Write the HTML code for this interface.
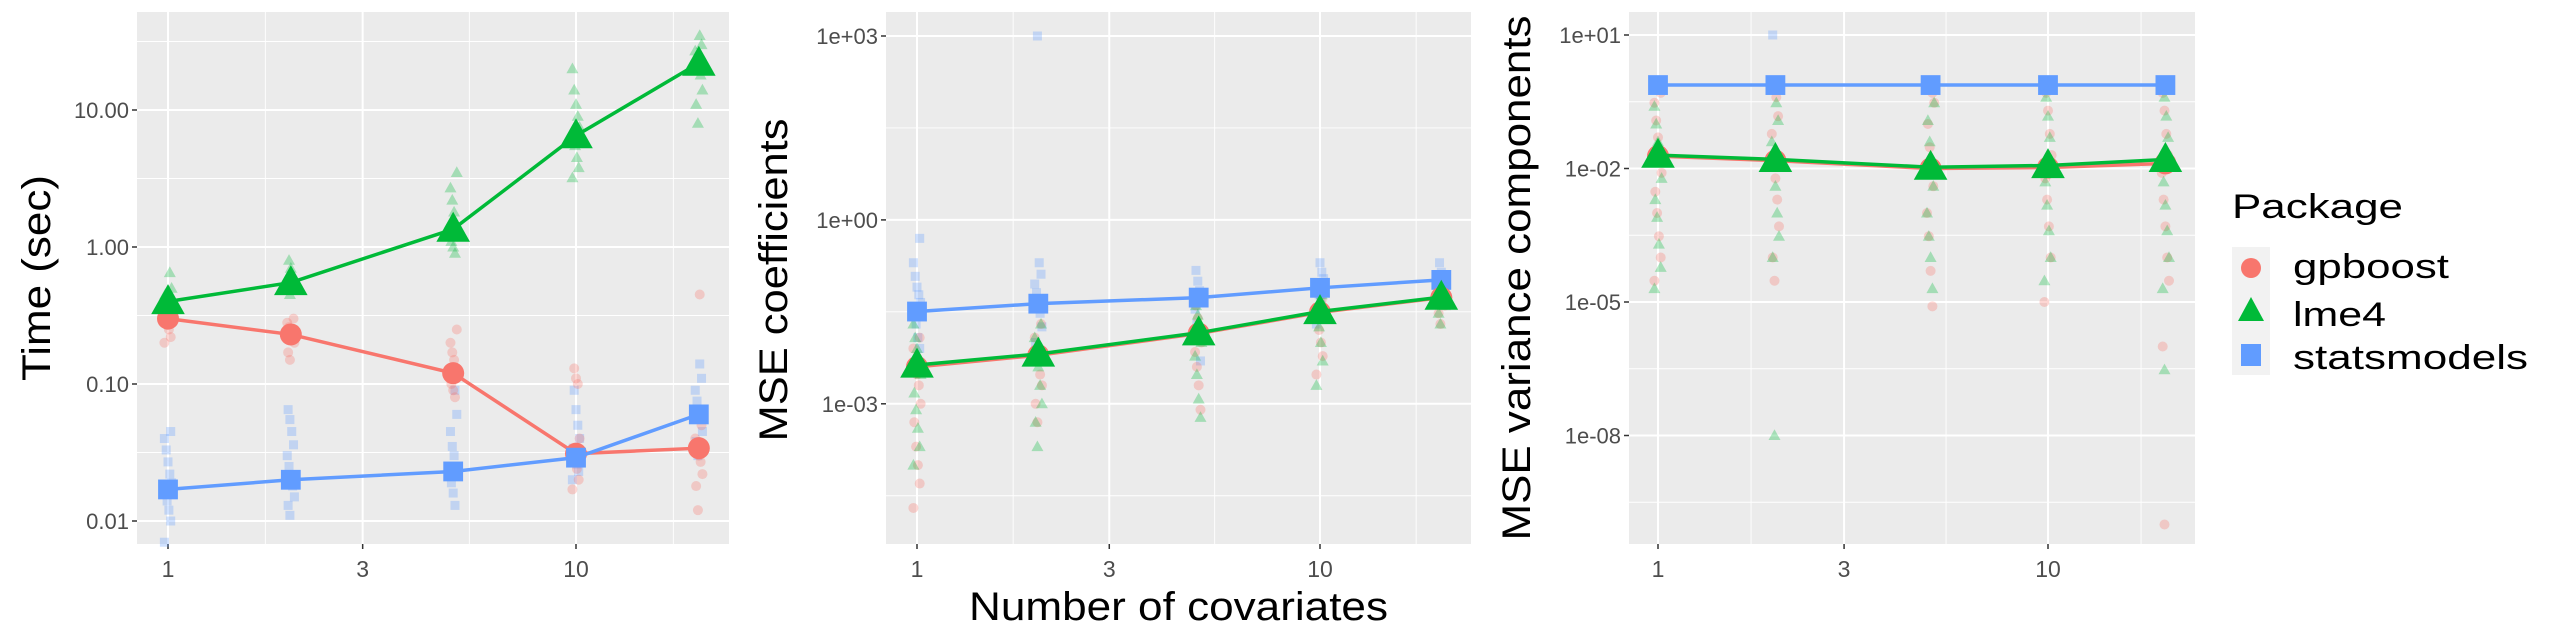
<!DOCTYPE html>
<html><head><meta charset="utf-8">
<style>
html,body{margin:0;padding:0;background:#fff;}
svg{display:block;font-family:"Liberation Sans",sans-serif;}
</style></head>
<body>
<svg id="chart" width="2560" height="640" viewBox="0 0 2560 640" xmlns="http://www.w3.org/2000/svg">
<g id="panels"></g>
<text x="969" y="620" font-size="40" textLength="419" lengthAdjust="spacingAndGlyphs" fill="#000">Number of covariates</text>
<g>
<text x="2232" y="218" font-size="34" textLength="171" lengthAdjust="spacingAndGlyphs" fill="#000">Package</text>
<rect x="2232" y="247" width="38" height="128" fill="#F2F2F2"/>
<g><circle cx="2251" cy="268" r="10" fill="#F8766D"/><text x="2293" y="278" font-size="34" textLength="156" lengthAdjust="spacingAndGlyphs">gpboost</text></g>
<g><polygon points="2251,297 2264,321 2238,321" fill="#00BA38"/><text x="2293" y="326" font-size="34" textLength="93" lengthAdjust="spacingAndGlyphs">lme4</text></g>
<g><rect x="2241" y="344" width="20" height="22" fill="#619CFF"/><text x="2293" y="369" font-size="34" textLength="235" lengthAdjust="spacingAndGlyphs">statsmodels</text></g>
</g>
</svg>
<script>
const covariates=[1,2,5,10,20];
const packages=["gpboost","lme4","statsmodels"];
// Panel 1: time (sec) means
const timeGp=[0.30,0.23,0.12,0.031,0.034];
const timeLme=[0.40,0.55,1.35,6.5,22];
const timeSm=[0.017,0.020,0.023,0.029,0.060];
const timeGpRuns=[[0.2,0.22,0.25,0.27,0.29,0.3,0.31,0.33,0.35],[0.15,0.17,0.2,0.22,0.24,0.26,0.28,0.3],[0.08,0.09,0.1,0.11,0.13,0.15,0.17,0.2,0.25],[0.017,0.02,0.024,0.028,0.032,0.04,0.1,0.11,0.13],[0.012,0.018,0.022,0.027,0.03,0.035,0.04,0.05,0.45]];
const timeLmeRuns=[[0.35,0.38,0.4,0.42,0.45,0.5,0.65],[0.45,0.5,0.55,0.6,0.7,0.8],[0.9,1.0,1.1,1.3,1.5,1.8,2.2,2.7,3.5],[3.2,3.8,4.5,5.5,6.5,7.5,9,11,14,20],[8,11,14,18,21,24,27,30,35]];
const timeSmRuns=[[0.007,0.01,0.012,0.014,0.016,0.019,0.022,0.027,0.033,0.04,0.045],[0.011,0.013,0.015,0.018,0.021,0.025,0.03,0.036,0.045,0.055,0.065],[0.013,0.016,0.019,0.022,0.025,0.03,0.035,0.045,0.06,0.09],[0.02,0.023,0.026,0.03,0.034,0.04,0.05,0.065,0.09],[0.03,0.038,0.045,0.055,0.065,0.075,0.09,0.11,0.14]];
// Panel 2: MSE coefficients
const coefGp=[0.0040,0.0062,0.0140,0.031,0.054];
const coefLme=[0.0043,0.0065,0.0144,0.032,0.055];
const coefSm=[0.032,0.043,0.054,0.078,0.105];
const coefGpRuns=[[0.00002,0.00005,0.0001,0.0002,0.0005,0.001,0.002,0.003,0.005,0.008,0.012],[0.0005,0.001,0.002,0.003,0.005,0.008,0.012,0.02],[0.0008,0.002,0.004,0.007,0.01,0.015,0.025,0.04],[0.003,0.006,0.01,0.016,0.025,0.035,0.05],[0.02,0.03,0.04,0.05,0.06,0.07]];
const coefLmeRuns=[[0.0001,0.0002,0.0004,0.0008,0.0015,0.003,0.005,0.008,0.012,0.02],[0.0002,0.0005,0.001,0.002,0.004,0.007,0.012,0.02],[0.0006,0.0012,0.003,0.006,0.01,0.016,0.028,0.04],[0.002,0.005,0.01,0.018,0.028,0.04,0.06],[0.02,0.03,0.04,0.055,0.07]];
const coefSmRuns=[[0.004,0.008,0.012,0.02,0.03,0.045,0.06,0.08,0.12,0.2,0.5],[0.005,0.01,0.018,0.03,0.045,0.065,0.09,0.13,0.2,1000],[0.005,0.012,0.02,0.035,0.05,0.07,0.1,0.15],[0.02,0.03,0.045,0.06,0.08,0.11,0.14,0.2],[0.05,0.07,0.09,0.11,0.14,0.2]];
// Panel 3: MSE variance components
const varGp=[0.019,0.015,0.0100,0.0105,0.013];
const varLme=[0.020,0.016,0.0107,0.0117,0.016];
const varSm=[0.75,0.75,0.75,0.75,0.75];
const varGpRuns=[[0.00003,0.0001,0.0003,0.001,0.003,0.008,0.02,0.05,0.12,0.3,0.5],[0.00003,0.0001,0.0005,0.002,0.006,0.02,0.06,0.15,0.4],[0.000008,0.00005,0.0003,0.001,0.004,0.01,0.03,0.1,0.3,0.5],[0.00001,0.0001,0.0005,0.002,0.006,0.02,0.06,0.2,0.5],[0.0000000001,0.000001,0.00003,0.0001,0.0005,0.002,0.008,0.02,0.06,0.2,0.5]];
const varLmeRuns=[[0.00002,0.00006,0.0002,0.0008,0.002,0.006,0.015,0.04,0.1,0.25,0.6],[0.00000001,0.0001,0.0003,0.001,0.004,0.012,0.04,0.12,0.3,0.6],[0.00002,0.0001,0.0003,0.001,0.004,0.012,0.04,0.12,0.3,0.6],[0.00003,0.0001,0.0004,0.0015,0.005,0.015,0.05,0.15,0.4,0.6],[0.0000003,0.00002,0.0001,0.0004,0.0015,0.005,0.015,0.05,0.15,0.4,0.6]];
const varSmRuns=[[0.75],[0.75,10],[0.75],[0.75],[0.75]];

const xTicks=[1,3,10];
const yTicks1=[0.01,0.1,1,10];
const yTickLabels1=["0.01","0.10","1.00","10.00"];
const yTicks2=[-3,0,3];
const yTickLabels2=["1e-03","1e+00","1e+03"];
const yTicks3=[-8,-5,-2,1];
const yTickLabels3=["1e-08","1e-05","1e-02","1e+01"];

const NS="http://www.w3.org/2000/svg";
const root=document.getElementById('panels');
const COL={gpboost:"#F8766D",lme4:"#00BA38",statsmodels:"#619CFF"};
function mk(tag,attrs,parent){const e=document.createElementNS(NS,tag);for(const k in attrs)e.setAttribute(k,attrs[k]);parent.appendChild(e);return e;}

function panel(cfg){
  const g=mk('g',{},root);
  
  
  const L=cfg.left,R=cfg.right,T=12,B=544;
  const sx=v=>cfg.x1+(Math.log10(v))*cfg.xDec;
  const sy=lv=>cfg.y0+(cfg.l0-lv)*cfg.yDec;
  const bg=mk('rect',{x:L,y:T,width:R-L,height:B-T,fill:"#EBEBEB"},g);
  
  
  const lvTop=cfg.l0+(cfg.y0-T)/cfg.yDec, lvBot=cfg.l0-(B-cfg.y0)/cfg.yDec;
  for(let i=0;i<cfg.ymaj.length+1;i++){
    const lv=(i<cfg.ymaj.length?cfg.ymaj[i]:cfg.ymaj[i-1]+cfg.step)-cfg.step/2;
    if(lv<lvTop&&lv>lvBot){const y=sy(lv);mk('line',{x1:L,x2:R,y1:y,y2:y,stroke:"#fff","stroke-width":0.9},g);}
  }
  [0.2386,0.7386,1.2386].forEach(l=>{const x=cfg.x1+l*cfg.xDec;if(x<R)mk('line',{x1:x,x2:x,y1:T,y2:B,stroke:"#fff","stroke-width":0.9},g);});
  cfg.ymaj.forEach((lv,i)=>{const y=sy(lv);mk('line',{x1:L,x2:R,y1:y,y2:y,stroke:"#fff","stroke-width":2},g);
    mk('line',{x1:L-5,x2:L,y1:y,y2:y,stroke:"#333","stroke-width":1.5},g);
    const t=mk('text',{x:L-8,y:y+8,"font-size":22,"text-anchor":"end",fill:"#4D4D4D"},g);t.textContent=cfg.ylabels[i];
    
    });
  xTicks.forEach(v=>{const x=sx(v);mk('line',{x1:x,x2:x,y1:T,y2:B,stroke:"#fff","stroke-width":2},g);
    mk('line',{x1:x,x2:x,y1:B,y2:B+5,stroke:"#333","stroke-width":1.5},g);
    const t=mk('text',{x:x,y:577,"font-size":23,"text-anchor":"middle",fill:"#4D4D4D"},g);t.textContent=String(v);
    
    });
  const yt=mk('text',{x:-cfg.titleLen/2,y:0,"font-size":40,textLength:cfg.titleLen,lengthAdjust:"spacingAndGlyphs",fill:"#000",transform:`translate(${cfg.titleX},${cfg.titleY}) rotate(-90)`},g);
  yt.textContent=cfg.title;
  
  
  function marker(p,x,y,s,op,parent){
    let e;
    if(p==="gpboost")e=mk('circle',{cx:x,cy:y,r:s*0.5,fill:COL[p],"fill-opacity":op},parent);
    else if(p==="lme4")e=mk('polygon',{points:`${x},${y-s*0.62} ${x+s*0.6},${y+s*0.45} ${x-s*0.6},${y+s*0.45}`,fill:COL[p],"fill-opacity":op},parent);
    else e=mk('rect',{x:x-s*0.45,y:y-s*0.45,width:s*0.9,height:s*0.9,fill:COL[p],"fill-opacity":op},parent);
    return e;
  }
  const order=["statsmodels","gpboost","lme4"];
  order.forEach(p=>{
    const runs=cfg.runs[p];
    runs.forEach((arr,ci)=>{arr.forEach((v,k)=>{
      const jx=((k*7+ci*3)%9-4)*0.9;
      const e=marker(p,sx(covariates[ci])+jx,sy(Math.log10(v)),10,0.3,g);
      
      
    });});
  });
  cfg.lineOrder.forEach(p=>{
    const m=cfg.means[p];
    const pts=m.map((v,i)=>`${sx(covariates[i])},${sy(Math.log10(v))}`).join(' ');
    const pl=mk('polyline',{points:pts,fill:"none",stroke:COL[p],"stroke-width":3.5},g);
    
    
    m.forEach((v,i)=>{const e=marker(p,sx(covariates[i]),sy(Math.log10(v)),p==="lme4"?28:22,1,g);
      
      });
  });
}

panel({name:"time-panel",left:137,right:729,x1:168,xDec:408,y0:110,l0:1,yDec:137,step:1,
  ymaj:yTicks1.map(Math.log10),ylabels:yTickLabels1,title:"Time (sec)",titleX:50,titleY:278,titleLen:206,
  runs:{gpboost:timeGpRuns,lme4:timeLmeRuns,statsmodels:timeSmRuns},
  means:{gpboost:timeGp,lme4:timeLme,statsmodels:timeSm},lineOrder:["gpboost","lme4","statsmodels"]});
panel({name:"coef-panel",left:886,right:1471,x1:917,xDec:403,y0:36,l0:3,yDec:61.3,step:3,
  ymaj:yTicks2,ylabels:yTickLabels2,title:"MSE coefficients",titleX:787,titleY:280,titleLen:323,
  runs:{gpboost:coefGpRuns,lme4:coefLmeRuns,statsmodels:coefSmRuns},
  means:{gpboost:coefGp,lme4:coefLme,statsmodels:coefSm},lineOrder:["statsmodels","gpboost","lme4"]});
panel({name:"variance-panel",left:1629,right:2195,x1:1658,xDec:390,y0:35,l0:1,yDec:44.5,step:3,
  ymaj:yTicks3,ylabels:yTickLabels3,title:"MSE variance components",titleX:1530,titleY:278,titleLen:525,
  runs:{gpboost:varGpRuns,lme4:varLmeRuns,statsmodels:varSmRuns},
  means:{gpboost:varGp,lme4:varLme,statsmodels:varSm},lineOrder:["statsmodels","gpboost","lme4"]});
</script>
</body></html>
